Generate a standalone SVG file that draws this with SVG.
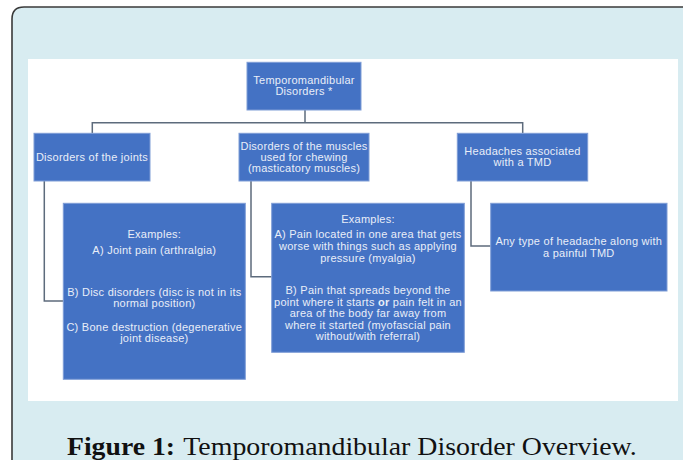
<svg xmlns="http://www.w3.org/2000/svg" width="683" height="460" viewBox="0 0 683 460">
<style>
.box{fill:#4472c4;stroke:#7f9dd6;stroke-width:1}
.t{font-family:"Liberation Sans",Arial,sans-serif;font-size:11px;letter-spacing:0.25px;fill:#e9eef8;text-anchor:middle}
.con{fill:none;stroke:#5d6b7c;stroke-width:1.5}
.cap{font-family:"Liberation Serif","Times New Roman",serif;font-size:26px;fill:#111}
</style>
<rect width="683" height="460" fill="#ffffff"/>
<path d="M12,460 V19 Q12,7 24,7 H683 V460 Z" fill="#d8ecf1"/>
<path d="M12,460 V19 Q12,7 24,7 H683" fill="none" stroke="#3a3a3a" stroke-width="1.6"/>
<rect x="28" y="59" width="650" height="342" fill="#ffffff"/>
<g id="connectors">
<path class="con" d="M305,110 V122.7"/>
<path class="con" d="M92.3,133.3 V122.7 H522.7 V133.3"/>
<path class="con" d="M44.3,181 V301 H63.3"/>
<path class="con" d="M251,181 V276.7 H271.7"/>
<path class="con" d="M471,181 V246 H490.7"/>
</g>
<g id="root">
<rect class="box" x="247" y="62.3" width="114" height="47.7"/>
<text class="t" x="304" y="84">Temporomandibular</text>
<text class="t" x="304" y="95">Disorders *</text>
</g>
<g id="joints">
<rect class="box" x="34" y="133.3" width="116" height="47.7"/>
<text class="t" x="92" y="160.5">Disorders of the joints</text>
</g>
<g id="muscles">
<rect class="box" x="239" y="133.3" width="130" height="47.7"/>
<text class="t" x="304" y="149.6">Disorders of the muscles</text>
<text class="t" x="304" y="160.7">used for chewing</text>
<text class="t" x="304" y="171.7">(masticatory muscles)</text>
</g>
<g id="headaches">
<rect class="box" x="457.3" y="133.3" width="130.4" height="47.7"/>
<text class="t" x="522.5" y="155">Headaches associated</text>
<text class="t" x="522.5" y="166.3">with a TMD</text>
</g>
<g id="joints-examples">
<rect class="box" x="63.3" y="203.3" width="182" height="176"/>
<text class="t" x="154.3" y="238.3">Examples:</text>
<text class="t" x="154.3" y="254">A) Joint pain (arthralgia)</text>
<text class="t" x="154.3" y="296">B) Disc disorders (disc is not in its</text>
<text class="t" x="154.3" y="307.3">normal position)</text>
<text class="t" x="154.3" y="330.7">C) Bone destruction (degenerative</text>
<text class="t" x="154.3" y="342.3">joint disease)</text>
</g>
<g id="muscles-examples">
<rect class="box" x="271.7" y="203.3" width="192.6" height="149"/>
<text class="t" x="368" y="223">Examples:</text>
<text class="t" x="368" y="238.3">A) Pain located in one area that gets</text>
<text class="t" x="368" y="250">worse with things such as applying</text>
<text class="t" x="368" y="261.7">pressure (myalgia)</text>
<text class="t" x="368" y="294.3">B) Pain that spreads beyond the</text>
<text class="t" x="368" y="306">point where it starts <tspan font-weight="bold">or</tspan> pain felt in an</text>
<text class="t" x="368" y="317.3">area of the body far away from</text>
<text class="t" x="368" y="328.7">where it started (myofascial pain</text>
<text class="t" x="368" y="340.3">without/with referral)</text>
</g>
<g id="headaches-examples">
<rect class="box" x="490.7" y="203.3" width="176.3" height="87.7"/>
<text class="t" x="578.8" y="245.3">Any type of headache along with</text>
<text class="t" x="578.8" y="256.7">a painful TMD</text>
</g>
<text class="cap" x="67" y="454.5" font-weight="bold" textLength="108" lengthAdjust="spacingAndGlyphs">Figure 1:</text>
<text class="cap" x="183.3" y="454.5" textLength="453.5" lengthAdjust="spacingAndGlyphs">Temporomandibular Disorder Overview.</text>
</svg>
